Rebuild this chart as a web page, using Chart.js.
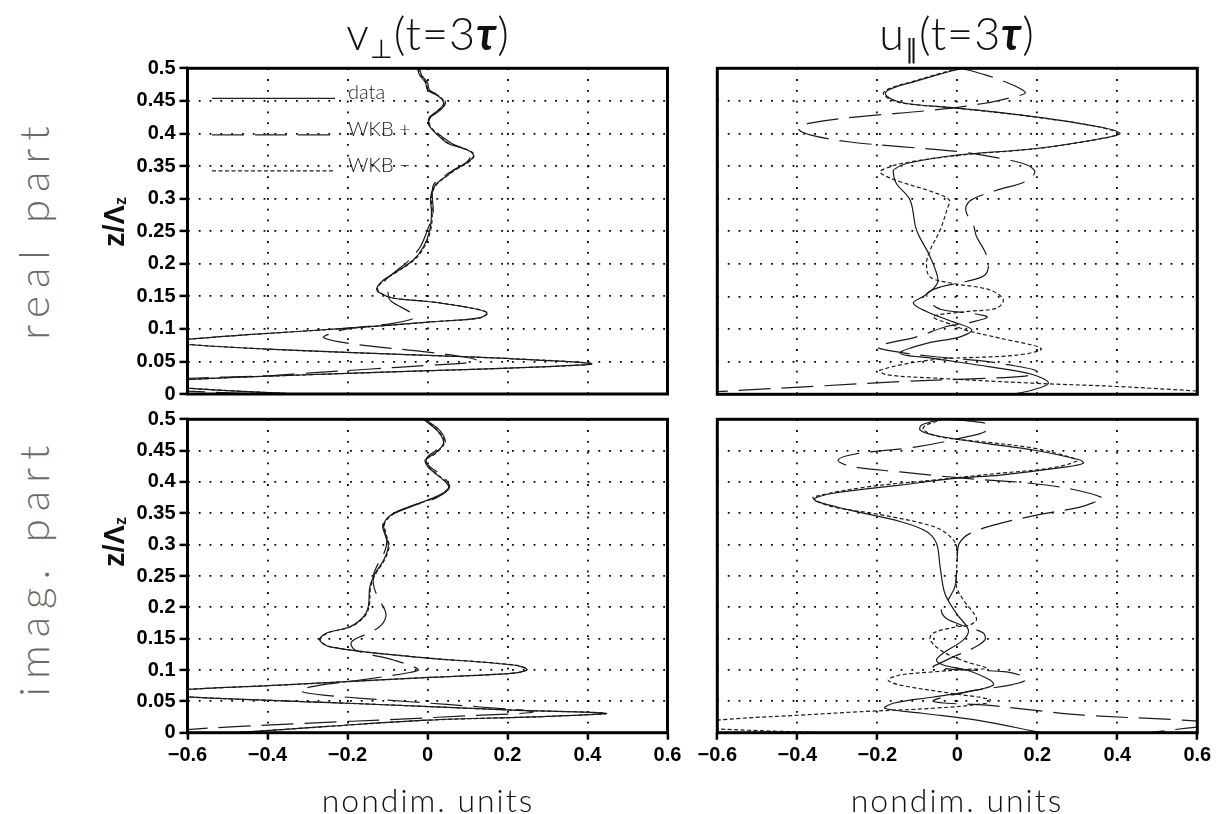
<!DOCTYPE html>
<html>
<head>
<meta charset="utf-8">
<script src="https://cdn.jsdelivr.net/npm/chart.js@4.4.1/dist/chart.umd.min.js"></script>
<style>
  html, body { margin: 0; padding: 0; background: #fff; }
  #page { position: relative; width: 1226px; height: 814px; overflow: hidden; background: #fff; }
  #page canvas { position: absolute; }
  .txt { position: absolute; white-space: nowrap; transform: translate(-50%, -50%); color: #111;
         font-family: Lato, 'DejaVu Sans', sans-serif; font-weight: 300; }
  .title { font-size: 45px; letter-spacing: 1px; }
  .title sub { font-size: 58%; vertical-align: -0.3em; }
  .title i { font-weight: 700; }
  .axis { font-size: 32px; letter-spacing: 2px; }
  .row { font-size: 42px; letter-spacing: 8px; color: #6a6a6a; transform: translate(-50%, -50%) rotate(-90deg); }
  .zlab { font-family: 'Liberation Sans', Arial, sans-serif; font-weight: 700; font-size: 29px;
          transform: translate(-50%, -50%) rotate(-90deg); }
  .zlab sub { font-size: 55%; vertical-align: -0.15em; }
</style>
</head>
<body>
<div id="page">
  <canvas id="reV"></canvas>
  <canvas id="reU"></canvas>
  <canvas id="imV"></canvas>
  <canvas id="imU"></canvas>

  <div class="txt title" style="left:428px; top:35px;">v<sub>⊥</sub>(t=3<i>τ</i>)</div>
  <div class="txt title" style="left:957px; top:35px;">u<sub>∥</sub>(t=3<i>τ</i>)</div>
  <div class="txt row" style="left:33px; top:229px;">real part</div>
  <div class="txt row" style="left:33px; top:567px;">imag. part</div>
  <div class="txt zlab" style="left:114px; top:222px;">z/Λ<sub>z</sub></div>
  <div class="txt zlab" style="left:114px; top:542px;">z/Λ<sub>z</sub></div>
  <div class="txt axis" style="left:428px; top:799px;">nondim. units</div>
  <div class="txt axis" style="left:957px; top:799px;">nondim. units</div>
</div>

<script>
// axis ticks
const xTicks = [-0.6, -0.4, -0.2, 0, 0.2, 0.4, 0.6];
const zTicks = [0, 0.05, 0.1, 0.15, 0.2, 0.25, 0.3, 0.35, 0.4, 0.45, 0.5];
const seriesNames = ['data', 'WKB +', 'WKB \u2212'];

// v_perp, real part
const vReDataZ = [0.5, 0.49, 0.478, 0.467, 0.456, 0.446, 0.435, 0.425, 0.418, 0.41, 0.398, 0.385, 0.375, 0.367, 0.358, 0.345, 0.336, 0.321, 0.303, 0.278, 0.252, 0.226, 0.206, 0.188, 0.175, 0.162, 0.155, 0.147, 0.142, 0.134, 0.125, 0.117, 0.111, 0.101, 0.091, 0.084, 0.08, 0.076, 0.068, 0.06, 0.054, 0.0466, 0.042, 0.035, 0.028, 0.022, 0.016, 0.009, 0.0];
const vReData = [-0.025, -0.02, -0.005, 0.0, 0.03, 0.04, 0.025, 0.005, 0.002, 0.006, 0.025, 0.05, 0.098, 0.115, 0.105, 0.07, 0.05, 0.02, 0.008, 0.01, 0.006, -0.01, -0.035, -0.077, -0.11, -0.127, -0.119, -0.085, 0.0, 0.09, 0.148, 0.13, 0.015, -0.2, -0.45, -0.6, -0.65, -0.6, -0.37, -0.035, 0.215, 0.41, 0.3, -0.035, -0.37, -0.6, -0.7, -0.6, -0.33];
const vReMinus = [-0.023, -0.018, -0.003, 0.002, 0.032, 0.042, 0.027, 0.007, 0.004, 0.008, 0.027, 0.052, 0.1, 0.117, 0.107, 0.072, 0.052, 0.022, 0.01, 0.012, 0.008, -0.008, -0.033, -0.075, -0.108, -0.125, -0.117, -0.083, 0.002, 0.092, 0.15, 0.132, 0.017, -0.198, -0.448, -0.598, -0.648, -0.598, -0.368, -0.033, 0.217, 0.412, 0.302, -0.033, -0.368, -0.598, -0.698, -0.598, -0.328];
const vRePlusZ = [0.5, 0.49, 0.478, 0.467, 0.456, 0.446, 0.435, 0.425, 0.418, 0.41, 0.398, 0.385, 0.375, 0.367, 0.356, 0.345, 0.336, 0.321, 0.303, 0.278, 0.252, 0.226, 0.206, 0.188, 0.178, 0.171, 0.16, 0.145, 0.137, 0.128, 0.119, 0.114, 0.108, 0.1, 0.093, 0.087, 0.08, 0.072, 0.065, 0.058, 0.052, 0.048, 0.044, 0.038, 0.032, 0.028, 0.024, 0.018, 0.012, 0.006, 0.0];
const vRePlus = [-0.02, -0.015, 0.0, 0.005, 0.035, 0.045, 0.03, 0.008, 0.003, 0.008, 0.03, 0.06, 0.095, 0.108, 0.098, 0.068, 0.045, 0.015, 0.012, 0.014, 0.0, -0.018, -0.045, -0.08, -0.1, -0.108, -0.1, -0.095, -0.077, -0.05, -0.03, -0.044, -0.09, -0.2, -0.24, -0.26, -0.22, -0.12, -0.01, 0.08, 0.123, 0.1, 0.0, -0.15, -0.3, -0.4, -0.6, -0.72, -0.75, -0.65, -0.42];

// u_par, real part
const uReDataZ = [0.5, 0.49, 0.48, 0.47, 0.462, 0.453, 0.446, 0.439, 0.426, 0.41, 0.4, 0.392, 0.377, 0.367, 0.354, 0.345, 0.339, 0.323, 0.298, 0.252, 0.211, 0.175, 0.162, 0.15, 0.14, 0.127, 0.111, 0.099, 0.088, 0.078, 0.063, 0.055, 0.042, 0.03, 0.017, 0.007, 0.0];
const uReData = [0.012, -0.05, -0.105, -0.16, -0.18, -0.165, -0.127, 0.0, 0.19, 0.357, 0.407, 0.357, 0.198, 0.0, -0.127, -0.158, -0.16, -0.152, -0.118, -0.102, -0.068, -0.048, -0.06, -0.085, -0.11, -0.077, -0.01, 0.036, 0.007, -0.077, -0.143, -0.06, 0.082, 0.19, 0.228, 0.19, 0.14];
const uRePlusZ = [0.5, 0.49, 0.479, 0.468, 0.462, 0.456, 0.446, 0.436, 0.426, 0.416, 0.408, 0.398, 0.387, 0.38, 0.372, 0.362, 0.352, 0.341, 0.326, 0.313, 0.3, 0.29, 0.278, 0.26, 0.242, 0.219, 0.2, 0.183, 0.173, 0.165, 0.155, 0.142, 0.13, 0.124, 0.118, 0.11, 0.104, 0.088, 0.073, 0.065, 0.058, 0.052, 0.045, 0.038, 0.033, 0.028, 0.024, 0.02, 0.013, 0.004, 0.0];
const uRePlus = [0.012, 0.07, 0.121, 0.16, 0.17, 0.14, 0.065, -0.06, -0.243, -0.368, -0.398, -0.368, -0.268, -0.143, 0.007, 0.107, 0.173, 0.194, 0.169, 0.098, 0.04, 0.023, 0.023, 0.04, 0.048, 0.069, 0.078, 0.069, 0.023, -0.04, -0.075, -0.07, -0.04, 0.04, 0.075, 0.03, -0.027, -0.102, -0.2, -0.15, -0.06, 0.05, 0.13, 0.19, 0.2, 0.17, 0.05, -0.127, -0.335, -0.6, -0.7];
const uReMinusZ = [0.5, 0.49, 0.48, 0.47, 0.462, 0.453, 0.446, 0.439, 0.426, 0.41, 0.4, 0.392, 0.377, 0.367, 0.354, 0.345, 0.341, 0.335, 0.326, 0.31, 0.298, 0.285, 0.252, 0.221, 0.201, 0.18, 0.17, 0.16, 0.145, 0.132, 0.127, 0.119, 0.106, 0.098, 0.086, 0.07, 0.06, 0.053, 0.037, 0.03, 0.025, 0.017, 0.012, 0.005, 0.0];
const uReMinus = [0.005, -0.055, -0.11, -0.165, -0.185, -0.17, -0.132, -0.005, 0.185, 0.355, 0.402, 0.36, 0.2, 0.01, -0.14, -0.185, -0.193, -0.18, -0.143, -0.06, -0.02, -0.025, -0.043, -0.068, -0.077, -0.068, -0.01, 0.082, 0.115, 0.098, 0.023, -0.06, -0.01, 0.023, 0.107, 0.21, 0.148, -0.06, -0.193, -0.177, -0.06, 0.19, 0.4, 0.6, 0.72];

// v_perp, imaginary part
const vImDataZ = [0.5, 0.48, 0.462, 0.446, 0.435, 0.425, 0.416, 0.398, 0.39, 0.377, 0.363, 0.35, 0.334, 0.318, 0.297, 0.275, 0.254, 0.233, 0.201, 0.185, 0.169, 0.159, 0.148, 0.137, 0.121, 0.108, 0.101, 0.095, 0.087, 0.076, 0.069, 0.063, 0.057, 0.047, 0.036, 0.031, 0.026, 0.02, 0.01, 0.0];
const vImData = [-0.01, 0.027, 0.04, 0.019, -0.006, 0.0, 0.015, 0.048, 0.052, 0.023, -0.035, -0.085, -0.109, -0.106, -0.098, -0.11, -0.131, -0.144, -0.148, -0.16, -0.194, -0.252, -0.27, -0.244, -0.035, 0.215, 0.248, 0.215, -0.035, -0.37, -0.6, -0.7, -0.6, -0.2, 0.215, 0.445, 0.3, 0.0, -0.25, -0.48];
const vImMinus = [-0.008, 0.029, 0.042, 0.021, -0.004, 0.002, 0.017, 0.05, 0.054, 0.025, -0.033, -0.083, -0.107, -0.104, -0.096, -0.108, -0.129, -0.142, -0.146, -0.158, -0.192, -0.25, -0.268, -0.242, -0.033, 0.217, 0.25, 0.217, -0.033, -0.368, -0.598, -0.698, -0.598, -0.198, 0.217, 0.447, 0.302, 0.002, -0.248, -0.478];
const vImPlusZ = [0.5, 0.482, 0.463, 0.451, 0.438, 0.427, 0.408, 0.391, 0.375, 0.362, 0.347, 0.331, 0.307, 0.291, 0.275, 0.254, 0.236, 0.217, 0.19, 0.172, 0.16, 0.145, 0.132, 0.116, 0.101, 0.096, 0.084, 0.074, 0.067, 0.06, 0.049, 0.041, 0.0332, 0.027, 0.0096, 0.005, 0.0];
const vImPlus = [-0.006, 0.031, 0.044, 0.023, -0.002, 0.002, 0.04, 0.055, 0.023, -0.035, -0.09, -0.112, -0.102, -0.106, -0.119, -0.134, -0.135, -0.125, -0.104, -0.115, -0.144, -0.19, -0.181, -0.085, -0.023, -0.044, -0.169, -0.285, -0.319, -0.26, -0.035, 0.131, 0.265, 0.104, -0.48, -0.6, -0.68];

// u_par, imaginary part
const uImDataZ = [0.5, 0.491, 0.483, 0.475, 0.462, 0.451, 0.435, 0.43, 0.424, 0.411, 0.406, 0.395, 0.382, 0.374, 0.369, 0.355, 0.337, 0.321, 0.302, 0.265, 0.222, 0.19, 0.164, 0.148, 0.127, 0.116, 0.108, 0.1, 0.084, 0.076, 0.068, 0.057, 0.047, 0.039, 0.031, 0.02, 0.0];
const uImData = [-0.04, -0.089, -0.093, -0.06, 0.065, 0.19, 0.307, 0.315, 0.273, 0.107, 0.0, -0.143, -0.31, -0.356, -0.352, -0.268, -0.143, -0.077, -0.052, -0.043, -0.031, -0.002, 0.0275, 0.015, -0.035, -0.052, -0.035, 0.023, 0.082, 0.09, 0.048, -0.06, -0.16, -0.181, -0.088, 0.049, 0.21];
const uImPlusZ = [0.5, 0.496, 0.491, 0.48, 0.472, 0.456, 0.445, 0.435, 0.425, 0.416, 0.406, 0.398, 0.388, 0.374, 0.368, 0.36, 0.347, 0.334, 0.318, 0.302, 0.281, 0.254, 0.233, 0.212, 0.196, 0.182, 0.169, 0.159, 0.148, 0.135, 0.121, 0.111, 0.105, 0.1, 0.097, 0.089, 0.084, 0.076, 0.065, 0.05, 0.044, 0.036, 0.028, 0.02, 0.013, 0.009, 0.0];
const uImPlus = [-0.01, 0.048, 0.078, 0.069, 0.023, -0.102, -0.252, -0.298, -0.268, -0.143, 0.015, 0.182, 0.29, 0.365, 0.344, 0.307, 0.198, 0.107, 0.032, 0.005, 0.0, -0.002, -0.006, -0.023, -0.04, -0.027, 0.023, 0.065, 0.069, 0.04, -0.01, -0.043, -0.06, 0.023, 0.123, 0.169, 0.173, 0.132, 0.023, -0.06, 0.073, 0.19, 0.315, 0.565, 0.7, 0.6, 0.48];
const uImMinusZ = [0.5, 0.49, 0.483, 0.472, 0.464, 0.454, 0.438, 0.433, 0.422, 0.414, 0.403, 0.392, 0.376, 0.371, 0.36, 0.347, 0.329, 0.313, 0.297, 0.254, 0.233, 0.212, 0.182, 0.172, 0.169, 0.159, 0.148, 0.129, 0.113, 0.103, 0.101, 0.097, 0.092, 0.084, 0.076, 0.063, 0.053, 0.047, 0.039, 0.034, 0.028, 0.022, 0.012, 0.006, 0.0];
const uImMinus = [-0.035, -0.08, -0.085, -0.043, 0.065, 0.19, 0.29, 0.298, 0.232, 0.107, -0.06, -0.227, -0.36, -0.356, -0.31, -0.185, -0.06, -0.018, -0.002, -0.002, -0.002, 0.015, 0.048, 0.032, -0.002, -0.06, -0.068, -0.035, 0.023, 0.073, 0.023, -0.06, -0.143, -0.173, -0.143, -0.018, 0.082, 0.073, -0.06, -0.227, -0.393, -0.56, -0.72, -0.6, -0.34];

const dashes = { data: [], plus: [32, 11], minus: [4, 2.5] };
const INK = '#1a1a1a';
const tickFont = { family: "'Liberation Sans', Arial, sans-serif", weight: 'bold', size: 20 };

function fmtTick(v) {
  return String(Math.round(v * 100) / 100).replace('-', '\u2212');
}

function curve(zs, xs, dash) {
  return {
    data: zs.map((z, i) => ({ x: xs[i], y: z })),
    showLine: true,
    borderColor: INK,
    borderWidth: 1.2,
    borderDash: dash,
    pointRadius: 0,
    pointHoverRadius: 0,
    tension: 0.35,
    fill: false
  };
}

// heavy box round each plot area
const framePlugin = {
  id: 'frame',
  afterDraw(chart) {
    const { ctx, chartArea: a } = chart;
    ctx.save();
    ctx.setLineDash([]);
    ctx.lineWidth = 3;
    ctx.strokeStyle = '#000';
    ctx.strokeRect(a.left, a.top, a.right - a.left, a.bottom - a.top);
    ctx.restore();
  }
};

// key drawn inside the first panel
const keyPlugin = {
  id: 'key',
  afterDatasetsDraw(chart) {
    const { ctx, chartArea: a } = chart;
    const rows = [[dashes.data, 30], [dashes.plus, 66.5], [dashes.minus, 102.5]];
    ctx.save();
    ctx.strokeStyle = '#222';
    ctx.fillStyle = '#222';
    ctx.lineWidth = 1.2;
    ctx.font = '300 20px Lato, sans-serif';
    ctx.textBaseline = 'alphabetic';
    rows.forEach(([dash, dy], i) => {
      ctx.setLineDash(dash);
      ctx.beginPath();
      ctx.moveTo(a.left + 24.5, a.top + dy);
      ctx.lineTo(a.left + 147.5, a.top + dy);
      ctx.stroke();
      ctx.fillText(seriesNames[i], a.left + 160.5, a.top + dy + 1);
    });
    ctx.restore();
  }
};

function panel(id, box, area, datasets, showZ, showX, extraPlugins) {
  const cv = document.getElementById(id);
  cv.width = box.w;
  cv.height = box.h;
  cv.style.left = box.x + 'px';
  cv.style.top = box.y + 'px';
  const yWidth = showZ ? area.l - box.x : 0;
  const xHeight = showX ? 40 : 0;
  return new Chart(cv, {
    type: 'scatter',
    data: { datasets },
    plugins: [framePlugin].concat(extraPlugins || []),
    options: {
      responsive: false,
      animation: false,
      devicePixelRatio: 1,
      events: [],
      layout: {
        padding: {
          left: showZ ? 0 : area.l - box.x,
          right: box.x + box.w - area.r,
          top: area.t - box.y,
          bottom: box.y + box.h - area.b - xHeight
        }
      },
      plugins: { legend: { display: false }, tooltip: { enabled: false } },
      scales: {
        x: {
          type: 'linear', min: -0.6, max: 0.6,
          afterBuildTicks: ax => { ax.ticks = xTicks.map(v => ({ value: v })); },
          afterFit: ax => { ax.height = xHeight; },
          ticks: { display: showX, padding: 4, color: '#000', font: tickFont, callback: fmtTick, maxRotation: 0, autoSkip: false },
          grid: { color: '#000', lineWidth: 1.8, drawTicks: showX, tickLength: 7, tickWidth: 2.5, tickColor: '#000' },
          border: { display: false, dash: [1.8, 9] }
        },
        y: {
          type: 'linear', min: 0, max: 0.5,
          afterBuildTicks: ax => { ax.ticks = zTicks.map(v => ({ value: v })); },
          afterFit: ax => { ax.width = yWidth; },
          ticks: { display: showZ, padding: 4, color: '#000', font: tickFont, callback: fmtTick, autoSkip: false },
          grid: { color: '#000', lineWidth: 1.8, drawTicks: showZ, tickLength: 8, tickWidth: 2.5, tickColor: '#000' },
          border: { display: false, dash: [1.8, 9] }
        }
      }
    }
  });
}

const leftCol = { l: 187.5, r: 667.5 };
const rightCol = { l: 717.3, r: 1197.3 };
const topRow = { t: 68.3, b: 394.3 };
const botRow = { t: 419.3, b: 732.7 };

panel('reV', { x: 80, y: 48, w: 620, h: 362 }, Object.assign({}, leftCol, topRow), [
  curve(vReDataZ, vReMinus, dashes.minus),
  curve(vRePlusZ, vRePlus, dashes.plus),
  curve(vReDataZ, vReData, dashes.data)
], true, false, [keyPlugin]);

panel('reU', { x: 690, y: 48, w: 536, h: 362 }, Object.assign({}, rightCol, topRow), [
  curve(uReMinusZ, uReMinus, dashes.minus),
  curve(uRePlusZ, uRePlus, dashes.plus),
  curve(uReDataZ, uReData, dashes.data)
], false, false);

panel('imV', { x: 80, y: 399, w: 620, h: 381 }, Object.assign({}, leftCol, botRow), [
  curve(vImDataZ, vImMinus, dashes.minus),
  curve(vImPlusZ, vImPlus, dashes.plus),
  curve(vImDataZ, vImData, dashes.data)
], true, true);

panel('imU', { x: 690, y: 399, w: 536, h: 381 }, Object.assign({}, rightCol, botRow), [
  curve(uImMinusZ, uImMinus, dashes.minus),
  curve(uImPlusZ, uImPlus, dashes.plus),
  curve(uImDataZ, uImData, dashes.data)
], false, true);
</script>
</body>
</html>
